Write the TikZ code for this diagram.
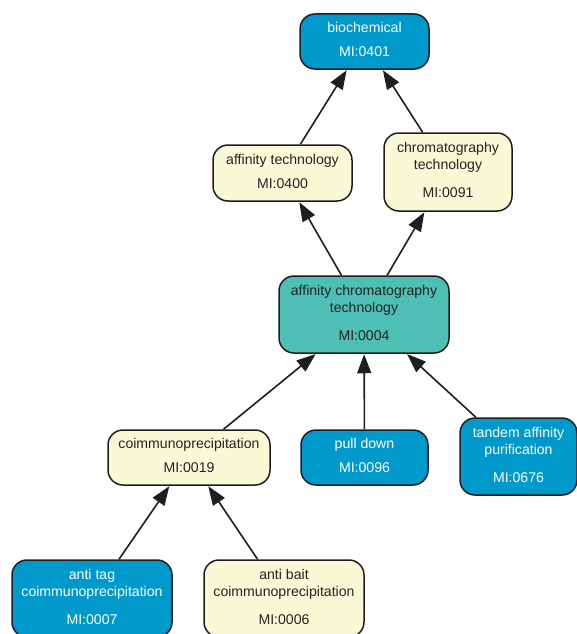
\documentclass[tikz,border=0pt]{standalone}
\usepackage{fontspec}
\setmainfont{Liberation Sans}
\usetikzlibrary{arrows.meta}
\definecolor{bluebox}{RGB}{0,153,204}
\definecolor{tealbox}{RGB}{77,191,180}
\definecolor{creambox}{RGB}{250,249,214}
\definecolor{edgecol}{RGB}{30,30,30}
\definecolor{darktext}{RGB}{35,35,35}
\tikzset{
  box/.style={draw=edgecol, line width=1.5pt, rounded corners=15pt, align=center,
    inner sep=0pt, font=\fontsize{14.1}{17}\selectfont,
    execute at end node={\rule[-3.5pt]{0pt}{3.5pt}}},
  bluenode/.style={box, fill=bluebox, text=white},
  creamnode/.style={box, fill=creambox, text=darktext},
  tealnode/.style={box, fill=tealbox, text=darktext},
  link/.style={draw=edgecol, line width=1.6pt, -{Triangle[length=19pt,width=14pt]}, shorten >=0.5pt},
}
\begin{document}
\begin{tikzpicture}[x=1pt,y=-1pt]
\useasboundingbox (0,0) rectangle (577,634);
\node[bluenode, minimum width=129pt, minimum height=55pt] (bio) at (364.5,41.5) {biochemical\\[7pt]MI:0401};
\node[creamnode, minimum width=139pt, minimum height=56pt] (afft) at (282.5,173) {affinity technology\\[7pt]MI:0400};
\node[creamnode, minimum width=128pt, minimum height=78pt] (chrom) at (448,172) {chromatography\\technology\\[11pt]MI:0091};
\node[tealnode, minimum width=170pt, minimum height=77pt] (act) at (364,314.5) {affinity chromatography\\technology\\[11pt]MI:0004};
\node[creamnode, minimum width=162pt, minimum height=55pt] (coimm) at (189,457.5) {coimmunoprecipitation\\[7pt]MI:0019};
\node[bluenode, minimum width=127pt, minimum height=55pt] (pull) at (364.5,457.5) {pull down\\[7pt]MI:0096};
\node[bluenode, minimum width=117pt, minimum height=77pt] (tandem) at (518.5,456.5) {tandem affinity\\purification\\[11pt]MI:0676};
\node[bluenode, minimum width=160pt, minimum height=77pt] (antitag) at (92,598.5) {anti tag\\coimmunoprecipitation\\[11pt]MI:0007};
\node[creamnode, minimum width=160pt, minimum height=77pt] (antibait) at (284,598.5) {anti bait\\coimmunoprecipitation\\[11pt]MI:0006};
\draw[link] (afft) -- (bio);
\draw[link] (chrom) -- (bio);
\draw[link] (act) -- (afft);
\draw[link] (act) -- (chrom);
\draw[link] (coimm) -- (act);
\draw[link] (pull) -- (act);
\draw[link] (tandem) -- (act);
\draw[link] (antitag) -- (coimm);
\draw[link] (antibait) -- (coimm);
\end{tikzpicture}
\end{document}
